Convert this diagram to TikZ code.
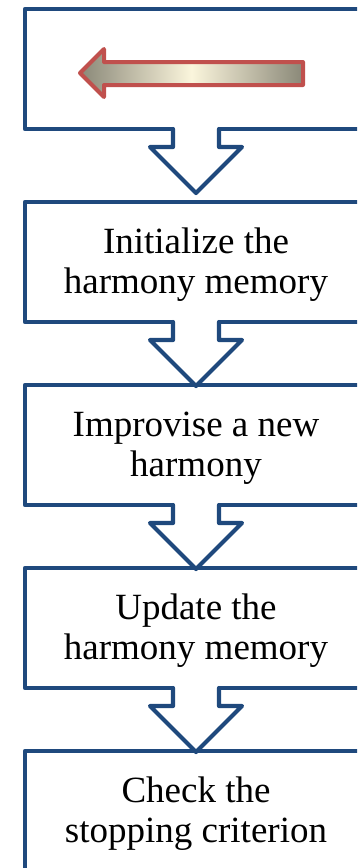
\documentclass[tikz,border=0pt]{standalone}
\usepackage{fontspec}
\setmainfont{Liberation Serif}
\usetikzlibrary{calc}
\definecolor{flowblue}{HTML}{1F497D}
\definecolor{arrowred}{HTML}{C0504D}
\definecolor{arrowgray}{HTML}{8A8878}
\definecolor{arrowcream}{HTML}{FBF5DC}
\tikzset{
  stage/.style={draw=flowblue, line width=4.2pt, line join=round, rectangle,
    minimum width=342pt, minimum height=120pt, anchor=north west,
    outer sep=0pt, inner sep=0pt},
  lbl/.style={font=\fontsize{37}{40}\selectfont, align=center, inner sep=0pt},
  flow/.style={draw=flowblue, line width=4.2pt, line join=round, line cap=round},
  backarrow/.style={draw=arrowred, line width=4pt, line join=round,
    left color=arrowgray, right color=arrowgray, middle color=arrowcream},
}
% fixed first-line height and last-line depth keep the labels evenly placed
\newcommand{\firststrut}{\rule{0pt}{26pt}}
\newcommand{\laststrut}{\rule[-9pt]{0pt}{9pt}}

\begin{document}
\begin{tikzpicture}[x=1pt,y=-1pt]
\useasboundingbox (0,0) rectangle (357,868);
\clip (0,0) rectangle (357,868);

% stage boxes
\node[stage] (b1) at (25,9) {};
\node[stage] (b2) at (25,202) {};
\node[stage] (b3) at (25,385) {};
\node[stage] (b4) at (25,568) {};
\node[stage] (b5) at (25,751) {};

% block arrow in the first box
\draw[backarrow] (303,62) -- (104,62) -- (104,49) -- (80,73) -- (104,97)
  -- (104,85) -- (303,85) -- cycle;

% labels
\node[lbl] (t2) at ($(b2.center)+(0,3)$) {\firststrut Initialize the\\harmony memory\laststrut};
\node[lbl] (t3) at ($(b3.center)+(0,3)$) {\firststrut Improvise a new\\harmony\laststrut};
\node[lbl] (t4) at ($(b4.center)+(0,3)$) {\firststrut Update the\\harmony memory\laststrut};
\node[lbl] (t5) at ($(b5.center)+(0,3)$) {\firststrut Check the\\stopping criterion\laststrut};

% open block arrows leading from each box to the next
\foreach \b in {b1,b2,b3,b4} {
  \fill[white] ($(\b.south)+(-23,-3)$) -- ($(\b.south)+(-23,18)$)
    -- ($(\b.south)+(-46,18)$) -- ($(\b.south)+(0,64)$)
    -- ($(\b.south)+(46,18)$) -- ($(\b.south)+(23,18)$)
    -- ($(\b.south)+(23,-3)$) -- cycle;
  \draw[flow] ($(\b.south)+(-23,0)$) -- ($(\b.south)+(-23,18)$)
    -- ($(\b.south)+(-46,18)$) -- ($(\b.south)+(0,64)$)
    -- ($(\b.south)+(46,18)$) -- ($(\b.south)+(23,18)$)
    -- ($(\b.south)+(23,0)$);
}
\end{tikzpicture}
\end{document}
